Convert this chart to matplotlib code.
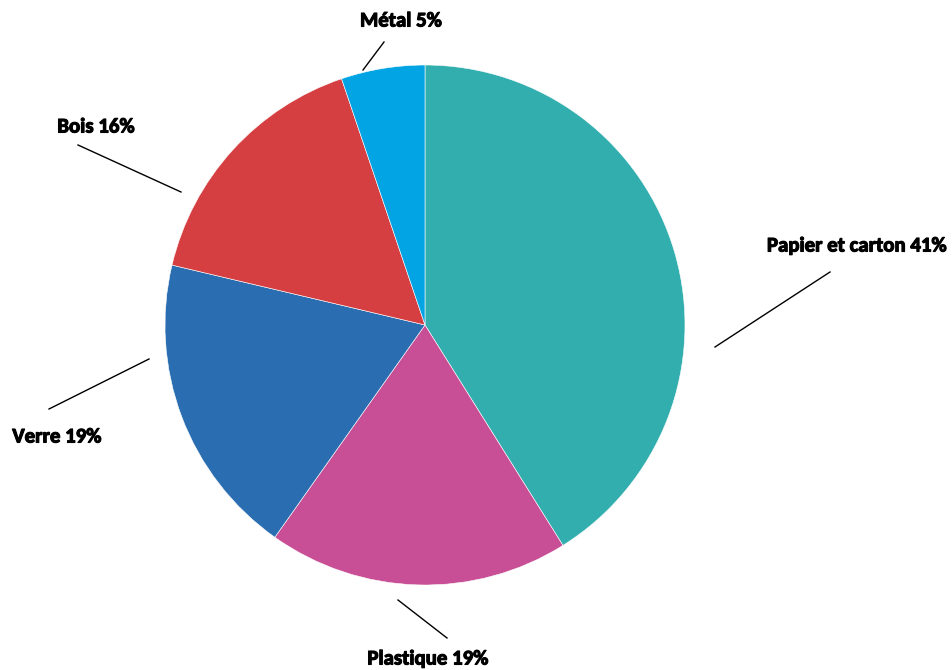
import matplotlib.pyplot as plt
import matplotlib.patheffects as pe

labels = ["Papier et carton", "Plastique", "Verre", "Bois", "Métal"]
shares = [41.1, 18.7, 18.9, 16.1, 5.2]
colors = ["#33AEAE", "#C84F96", "#2A6DB0", "#D63F41", "#03A4E4"]

# label centres (pixels, y from top) and leader line ends
label_pos = [(857, 246), (428, 659), (57, 437), (96, 127), (401, 21)]
line_ends = [((715, 347), (830, 272)),
             ((447, 638), (398, 600)),
             ((149, 359), (49, 409)),
             ((181, 192), (78, 145)),
             ((363, 70), (384, 42))]

W, H = 952, 670
fig = plt.figure(figsize=(W / 100, H / 100), dpi=100)
ax = fig.add_axes([0, 0, 1, 1])

ax.pie(shares, colors=colors, startangle=90, counterclock=False,
       center=(425, H - 325), radius=260,
       wedgeprops=dict(edgecolor="white", linewidth=0.4))
ax.set_xlim(0, W)
ax.set_ylim(0, H)
ax.set_aspect("equal")
ax.axis("off")

for name, v, (tx, ty), (p0, p1) in zip(labels, shares, label_pos, line_ends):
    ax.plot([p0[0], p1[0]], [H - p0[1], H - p1[1]], color="black", lw=1)
    ax.text(tx, H - ty, f"{name} {round(v)}%", ha="center", va="center",
            fontsize=15, fontweight="bold", family="Carlito", color="black",
            path_effects=[pe.withStroke(linewidth=0.8, foreground="black")])

fig.savefig("out.png", dpi=100)
